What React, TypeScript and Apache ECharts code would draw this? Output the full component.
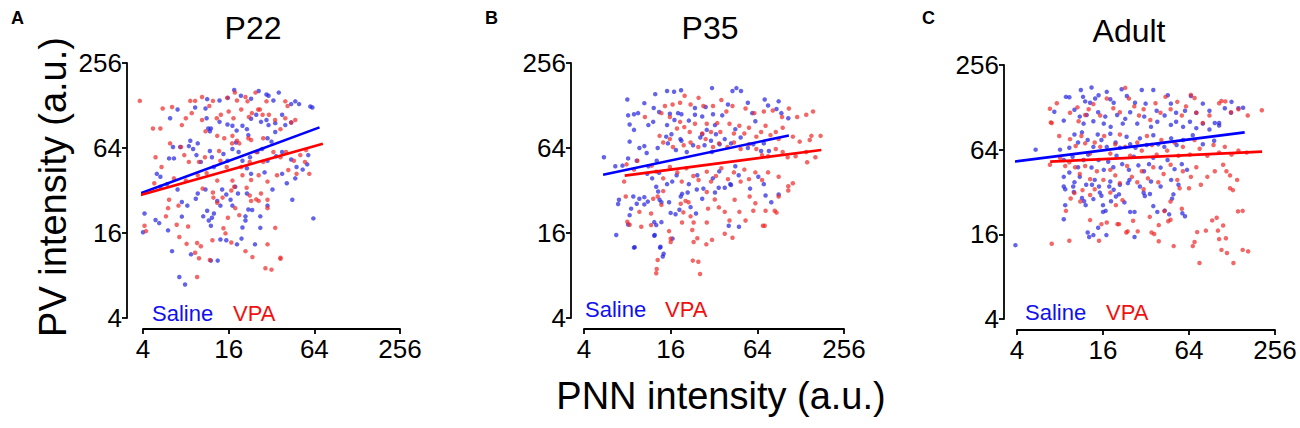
import React, { useEffect, useRef } from "react";
import * as echarts from "echarts";

const panelTitles = ["P22", "P35", "Adult"];
const panelLetters = ["A", "B", "C"];
const tickValues = [4, 16, 64, 256];
const legendLabels = ["Saline", "VPA"];
const xAxisTitle = "PNN intensity (a.u.)";
const yAxisTitle = "PV intensity (a.u.)";

const p22Saline = [[11.3,142],[13.8,139],[15.8,145],[19.5,150],[23,143],[29.5,153],[30.5,150],[33,139],[44,131],[50,131],[60,126],[62,124],[47,137],[36,158],[26,162],[17.5,165],[6.2,104],[7,120],[9.3,124],[11,122],[11.2,104],[11.5,88],[11.8,84],[12,88],[13.8,98],[15.7,94],[17,92],[18.2,85],[20,92],[21.5,87],[22,79],[23,103],[25,110],[27,98],[29.5,101],[30.5,93],[34,96],[38,110],[40,93],[44,97],[30,75],[34,83],[32,71],[6.6,54],[5,42],[5.3,40],[6.1,54],[6.5,65],[7.3,65],[8.4,66],[9,63],[9.5,57],[8.6,72],[9.7,69],[10.2,51],[11.8,61],[12.2,55],[12.6,47],[14.7,58],[15.7,52],[17,63],[18,70],[18.8,60],[20,52],[21.5,46],[22.6,55],[23,42],[25.5,60],[27.5,63],[28.6,43],[30,52],[34.5,56],[38,60],[44,53],[48,47],[53,45],[58,57],[57,49],[47,39],[41,36],[38,42],[5.3,34],[5.9,35.5],[4.1,22],[4,16.2],[4.9,19.8],[5.2,18.8],[6,16.7],[6.4,11.9],[7.2,7.8],[7.9,6.9],[7,32.5],[7.5,26.5],[7.5,20.9],[8.2,25],[9.4,28],[9.7,30.5],[11,32.5],[11.3,23],[11.6,19.6],[12,18],[12.2,20.5],[12.6,22],[10.6,21],[13.3,27],[14,25],[14.4,32.5],[15.4,30],[16.5,27.5],[17,25],[17.8,34],[18.6,30.5],[21.5,30.5],[22,23.5],[21,21],[21,19.6],[20,17.5],[23.4,23.3],[26.7,21],[26.7,17.4],[14,14.4],[15.4,14.2],[18.3,13.3],[19.7,14.6],[24.5,13.3],[30,25],[32.5,32.5],[44.8,27.5],[63,20.3],[8.7,11.3],[13.4,10.2],[12,10.2]];
const p22VPA = [[3.8,138],[8.6,138],[9.3,138],[10.4,147],[12.4,138],[11.7,127],[17.7,158],[15.6,145],[18.3,139],[21,147],[24.7,158],[21.7,137],[29.5,137],[40,137],[41.5,127],[26.5,120],[5.5,122],[6.4,125],[4.7,88],[5.3,88],[7.5,93],[8,104],[8.8,113],[10.4,101],[13.2,104],[14.1,110],[16,116],[17.3,104],[19.6,120],[22.2,106],[23.3,113],[25.8,120],[27.7,110],[30.7,110],[33.9,101],[40,104],[44,97],[47,101],[37,87],[11,84],[13.3,78],[14.9,75],[17,78],[18.3,72],[19,69],[22,75],[23,73],[28,75],[7.4,65],[6.2,69],[4.9,55],[5.4,47],[7.8,57],[8.4,51],[9.9,51],[10.9,55],[14,52],[13.7,61],[16.9,69],[15.5,47],[19.6,47],[22.5,51],[25,60],[28,51],[33,60],[37,55],[40.5,60],[46,52],[51,57],[56,62],[55,51],[42,44.7],[48,42],[59,42],[35,41],[30,37],[26,41],[23,38],[20,41],[17,37.6],[13.3,37.6],[11.2,42.5],[9.7,41],[8,37.6],[6.6,39],[4.8,36],[4.1,18],[4.2,16.5],[6,24],[5.8,21],[6.1,27.5],[6.9,18.3],[7.1,25],[7.2,15],[8.3,17.8],[8.1,13.4],[9.6,13.6],[9.3,11.6],[10.2,12.9],[9.9,10.6],[9.6,7.8],[11.8,10.3],[12.3,14.2],[12.5,28.5],[13.3,26.2],[14.5,28.5],[14.7,17.3],[15.2,15.9],[16.7,13.7],[15.8,20.5],[17.8,24],[19,21.4],[17.5,34],[21.4,33.5],[22.5,29.5],[23,27],[25,27.7],[27,30.5],[30,27.5],[30,24],[26,27],[16.7,32],[21,11.9],[23.5,10.8],[29,9],[32,8.8],[34,17.4],[37,10.7],[30,13.3],[37,10.5],[12.4,31],[10.5,33]];
const p22SalineFit = [[3.8,30.4],[69.6,89.6]];
const p22VPAFit = [[3.7,29.4],[73.5,68.6]];

const p35Saline = [[5.5,55],[6.6,47.5],[7.4,48],[8.1,54],[8.3,71],[8.9,86],[8.1,109],[8.9,111],[8.3,94],[9.5,113],[10.5,133],[12.5,154],[15.1,162],[16.9,160],[18.9,164],[12.2,123],[13.3,115],[11.2,93],[12.1,98],[15.8,112],[15.1,93],[17,101],[18,113],[19,111],[21.4,100],[23.6,123],[23.6,110],[26.5,107],[28,125],[28.5,86],[31,170],[31.5,111],[32.5,93],[36.5,109],[40,130],[43,162],[45.8,170],[49.3,162],[55,134],[59,113],[62,99],[72,141],[76,128],[87,121],[94,113],[90,137],[105,104],[8,141],[9.7,64],[10.5,66],[10.9,59],[9.3,52],[11.2,47.5],[12.8,52],[13,64],[14.9,77],[15.3,69],[16.2,80],[17.4,62],[18.7,74],[19,72],[20.7,60],[22.9,67],[25.7,76],[26.5,80],[27.5,67],[30.5,72],[31,60],[33,80],[35,68],[38,74],[42,69],[45,87],[49,76],[55,64],[60,68],[68,61],[71,69],[77,61],[11,42],[11.9,39],[13.3,42.7],[15.1,35.5],[16.4,37],[17.6,41],[21.4,35.5],[24.5,41],[31.4,39],[34.8,43.7],[41.5,35.5],[47.5,41],[57,33],[65,40],[71,35.5],[45,47.5],[6.7,15.5],[7,27.5],[6.9,25.7],[8.1,18.4],[8.3,21.4],[8.5,23.8],[8.8,29],[9.3,25.8],[9,12.7],[9.7,28],[10.5,28.7],[10.5,25.5],[11.1,26.7],[12.7,34],[13.1,31.5],[13.4,27.5],[13.8,26.4],[12.3,19.1],[12.7,18.2],[13.8,19.1],[12.3,15.3],[13.6,12.8],[14.3,11.4],[15.6,26.4],[16,22.2],[17.3,21.7],[16.5,14.6],[18.4,23.4],[18.8,29],[19.2,30.3],[21,31],[22,24.4],[24,22],[24.3,32.5],[26.5,28],[27,33],[32.5,31],[34.5,33.5],[38,33.5],[42,35],[40.5,18],[47.7,17.7],[80,26.4],[73,29.5],[8.9,12.6],[14.1,10.9],[13.5,12.6],[12.4,15.5],[90,30]];
const p35VPA = [[14.6,127],[16.5,130],[18.6,134],[22,130],[27,127],[31.5,127],[39,116],[43,127],[53,122],[61,113],[71,116],[82,118],[95,106],[106,122],[121,106],[140,110],[156,116],[152,78],[176,78],[20,150],[25,145],[36,140],[10.6,106],[13.8,113],[15.8,106],[17.7,88],[18.6,98],[19.9,90],[21.7,83],[23.6,95],[26.5,81],[28.5,95],[30.5,83],[33.7,96],[35.4,83],[41,95],[44,81],[48,92],[52,81],[56,89],[63,77],[68,83],[73,92],[79,79],[86,83],[96,89],[113,77],[126,71],[148,73],[13.4,78],[14.2,70],[15.8,74],[16.6,65],[19.7,67],[22,70],[24.9,65],[28,74],[31.5,65],[34.7,69],[39.7,65],[44,70],[49,63],[56,68],[63,63],[69,57],[76,56],[86,63],[96,60],[104,55],[118,56],[140,60],[162,55],[90,74],[11.8,48],[12.7,43.5],[14.2,39],[15.8,47],[17.8,43],[19.1,37],[20.6,46],[23,40.5],[25,38],[28.5,43.5],[30.5,37],[33,40.5],[36,46],[40,38.5],[44,43],[49,37],[52,45],[56,38.5],[62,43],[69,38],[76,43],[90,40],[113,36],[9.4,52],[7.9,49],[8.9,45],[7.8,29],[7.6,37],[142,50.7],[105,34.3],[84.5,23],[72,18],[8,19.2],[8.3,18.3],[9.7,22.6],[10,17.7],[11.7,22],[11.7,18.2],[12.1,28],[13,29],[13.8,25.3],[14.2,31.7],[15.6,16.5],[16,13.8],[16,14.6],[13,10.3],[12.8,8.9],[12.7,8.3],[18.8,25.8],[19.2,19],[19.6,22.4],[20.3,27],[21.3,26.4],[22,21],[22.6,16.8],[23.1,19],[23.1,13.8],[24.5,14.7],[22.8,10.2],[24.9,10],[25.6,8.2],[28.5,31.2],[29.1,23.8],[28.5,19],[28.3,13.3],[31,14.3],[32.4,27.6],[34.6,24.3],[38,22.6],[38,15.8],[41,19.6],[43,14.8],[44.5,27.5],[48,22.6],[53,19.6],[56.6,29],[60,23],[62,26],[70,18],[73,23],[90,29],[105,32],[87,22.3]];
const p35SalineFit = [[5.43,41.4],[106,78.5]];
const p35VPAFit = [[7.67,40.8],[178,62]];

const adultSaline = [[5.4,64],[9.3,151],[10.1,123],[11.2,170],[11.6,152],[12,141],[13.3,177],[13,138],[14.1,148],[14.9,156],[17,165],[18,146],[19,138],[21.6,172],[23.5,154],[26.8,138],[29.9,170],[31.8,136],[36,170],[38,121],[45.5,156],[47.8,136],[52,117],[60,121],[66,154],[72,117],[80,136],[89,121],[97,99],[104,99],[114,126],[126,117],[142,126],[153,127],[127,140],[11,110],[11.7,98],[12.3,113],[13.7,102],[14.8,118],[16.2,98],[16.6,110],[18.1,93],[20.1,113],[22,98],[22.9,106],[24.8,118],[27.8,98],[31.1,110],[34.7,93],[38.4,101],[43.2,112],[47.8,96],[52,101],[58.2,93],[65,101],[72,91],[80,98],[89,89],[104,95],[10.1,82],[10.7,72],[11.4,85],[12.5,75],[13.7,67],[14.7,82],[15.6,75],[17,67],[18,83],[19.6,72],[21,66],[23.4,79],[24.8,70],[27,66],[29,77],[32.4,69],[36,81],[39,70],[43,67],[48,77],[52.4,69],[58.2,75],[68,81],[80,70],[96,74],[8,64],[8.5,54],[9.3,66],[9.8,57],[10.7,48],[11.7,54],[12.6,59],[13.3,47.8],[14.9,54],[16.2,46],[17.4,52.5],[18.9,48],[19.9,58],[21.8,50.5],[24.3,46],[26.3,57],[28.3,49.5],[31,45],[33.6,50.5],[36,56],[40.5,47.7],[45.3,54],[50.7,46.5],[57,50.5],[62,46],[8.5,41],[9.3,44],[10.1,37.6],[11,41],[12.2,36],[14,39],[15,35],[18,38],[21,36],[24.5,39],[29,35],[34.7,38],[40.5,35],[48,39],[54,36],[3.9,13.4],[8.5,35],[8.7,33.5],[9.9,35],[10,32],[11.4,29],[11.8,27.5],[12.1,25.8],[8.7,25.8],[8.5,20.5],[13.4,36],[13.7,28.5],[15.6,30.1],[16,25.8],[16.7,23.5],[15.2,31.7],[17.7,35],[18.2,27.5],[19,33.2],[19.7,29.7],[22.6,27],[23.9,37],[24.8,23.1],[26.6,23.1],[30.8,31.6],[31.4,30],[34.1,31],[36,25.4],[38.4,23.1],[43.3,23.6],[46.5,22.2],[48.7,28.7],[49.8,30.8],[57.5,22.6],[12.5,16.5],[12.8,15.3],[13.7,15.8],[14.8,17.8],[16,23.1],[16.9,15.8],[26.6,15.3],[20.7,30.8],[60,21.5],[7.3,119],[8.8,152],[8.5,103]];
const adultVPA = [[7.6,137],[7,99],[7.9,80],[9.4,117],[10.6,128],[10.8,102],[12,113],[12.7,124],[13.7,135],[15.3,112],[17,148],[18.9,126],[21,118],[22.9,176],[24.3,148],[26.5,130],[28.6,112],[30.8,124],[34.3,104],[37.3,137],[40.4,117],[43.8,152],[47.6,124],[53,140],[57,112],[61,130],[66,157],[70,149],[72,117],[80,99],[89,112],[104,137],[108,142],[115,141],[126,118],[142,124],[165,112],[207,122],[6.9,100],[6.8,125],[9.4,76],[10.3,68],[11.3,80],[12,71],[13,60],[14,72],[15.3,67],[16.3,80],[18,60],[19.5,70],[21,82],[22.9,67],[24.8,58],[27.8,72],[29.9,63],[32.5,80],[35.2,69],[38,59],[41,75],[45,63],[50.6,72],[54,58],[58,67],[65,59],[70,75],[76,65],[86,58],[95,69],[104,61],[114,67],[127,59],[142,63],[162,61],[8,56],[8.7,49],[9.3,52],[10.2,48],[11,43],[12,49],[13,39.5],[14.5,45],[16.1,39],[18,46],[19.5,42],[21,37],[23.6,49],[25.5,41],[27.8,37.5],[29.9,45],[33,40],[36,48],[39,37.5],[42.5,43],[47.6,50],[53,39],[58,45],[66,41],[72,48],[86,41],[97,45],[111,50],[124,42],[139,39],[117,45],[6.8,50],[7,13.7],[9.3,14.4],[8.8,23.5],[9.5,28.8],[10.1,31.5],[11.1,27.4],[11.5,33],[13,20.2],[13,30.5],[14,33.5],[15,14.4],[15.6,18.9],[17,19.4],[18,31.7],[19.7,25.8],[20.2,18.9],[20.7,18.9],[21.9,28],[23.3,16.5],[23.8,16.8],[26,20],[28,16.8],[30.8,33.5],[34,21.3],[35,16.5],[36.5,16.1],[39.3,14.3],[39.3,18.6],[43,23.4],[45.8,19.8],[47.5,20.3],[47.5,27.4],[50,13.2],[55,34],[57,24.3],[64,34],[68,13.2],[70,14.1],[73,16.6],[77.5,36],[84,17],[93,20.1],[104,14.8],[108,12.4],[111,18.5],[124,34],[141,23.3],[152,12.4],[131,10],[75.8,10],[166,12.1],[118,11.8],[116,15],[102,17],[152,23.5],[130,33],[100,21]];
const adultSalineFit = [[3.83,52.6],[157,85]];
const adultVPAFit = [[6.83,52.6],[208,62]];

const panelData = [
  { saline: p22Saline, vpa: p22VPA, salineFit: p22SalineFit, vpaFit: p22VPAFit },
  { saline: p35Saline, vpa: p35VPA, salineFit: p35SalineFit, vpaFit: p35VPAFit },
  { saline: adultSaline, vpa: adultVPA, salineFit: adultSalineFit, vpaFit: adultVPAFit },
];

const FONT = '"Liberation Sans", Arial, Helvetica, sans-serif';
const BLUE_DOT = "rgba(35,35,225,0.88)";
const RED_DOT = "rgba(240,40,40,0.88)";
const BLUE_LINE = "#0000ff";
const RED_LINE = "#ff0000";
const LEGEND_BLUE = "#1010f0";
const LEGEND_RED = "#f01010";

const layout = [
  { left: 143, top: 63, width: 257, height: 255, yOffset: 16, titleX: 253, titleY: 28, letterX: 11, salineX: 152, vpaX: 233, legendY: 313 },
  { left: 584, top: 63, width: 260, height: 255, yOffset: 13, titleX: 710, titleY: 28, letterX: 485, salineX: 585, vpaX: 665, legendY: 309 },
  { left: 1017, top: 65, width: 258, height: 254, yOffset: 13, titleX: 1129, titleY: 31, letterX: 922, salineX: 1025, vpaX: 1106, legendY: 312 },
];

function buildOption() {
  const axisCommon = (i: number) => ({
    type: "log",
    logBase: 2,
    min: 4,
    max: 256,
    gridIndex: i,
    axisLine: { show: true, onZero: false, lineStyle: { color: "#000", width: 1.8 } },
    axisTick: { show: true, length: 5, customValues: tickValues, lineStyle: { color: "#000", width: 1.8 } },
    splitLine: { show: false },
    minorTick: { show: false },
  });
  const labelStyle = { color: "#000", fontSize: 26, fontFamily: FONT, customValues: tickValues, formatter: (v: number) => String(Math.round(v)) };

  const series: any[] = [];
  panelData.forEach((p, i) => {
    series.push({ type: "scatter", xAxisIndex: i, yAxisIndex: i, data: p.saline, symbolSize: 4.5, itemStyle: { color: BLUE_DOT }, clip: false, silent: true });
    series.push({ type: "scatter", xAxisIndex: i, yAxisIndex: i, data: p.vpa, symbolSize: 4.5, itemStyle: { color: RED_DOT }, clip: false, silent: true });
    series.push({ type: "line", xAxisIndex: i, yAxisIndex: i, data: p.salineFit, showSymbol: false, symbol: "none", lineStyle: { color: BLUE_LINE, width: 2.6 }, clip: false, silent: true, z: 5 });
    series.push({ type: "line", xAxisIndex: i, yAxisIndex: i, data: p.vpaFit, showSymbol: false, symbol: "none", lineStyle: { color: RED_LINE, width: 2.6 }, clip: false, silent: true, z: 5 });
  });

  const graphics: any[] = [];
  layout.forEach((l, i) => {
    graphics.push({ type: "text", x: l.titleX, y: l.titleY, style: { text: panelTitles[i], font: `32px ${FONT}`, fill: "#000", textAlign: "center", textVerticalAlign: "middle" } });
    graphics.push({ type: "text", x: l.letterX, y: 18, style: { text: panelLetters[i], font: `bold 18px ${FONT}`, fill: "#000", textAlign: "left", textVerticalAlign: "middle" } });
    graphics.push({ type: "text", x: l.salineX, y: l.legendY, style: { text: legendLabels[0], font: `22px ${FONT}`, fill: LEGEND_BLUE, textAlign: "left", textVerticalAlign: "middle" } });
    graphics.push({ type: "text", x: l.vpaX, y: l.legendY, style: { text: legendLabels[1], font: `22px ${FONT}`, fill: LEGEND_RED, textAlign: "left", textVerticalAlign: "middle" } });
  });
  graphics.push({ type: "text", x: 53, y: 187, rotation: Math.PI / 2, style: { text: yAxisTitle, font: `38px ${FONT}`, fill: "#000", textAlign: "center", textVerticalAlign: "middle" } });
  graphics.push({ type: "text", x: 721, y: 396, style: { text: xAxisTitle, font: `38px ${FONT}`, fill: "#000", textAlign: "center", textVerticalAlign: "middle" } });

  return {
    animation: false,
    backgroundColor: "#fff",
    grid: layout.map((l) => ({ left: l.left, top: l.top, width: l.width, height: l.height, containLabel: false })),
    xAxis: layout.map((l, i) => ({ ...axisCommon(i), position: "bottom", offset: 11, axisLabel: { ...labelStyle, margin: 7 } })),
    yAxis: layout.map((l, i) => ({ ...axisCommon(i), position: "left", offset: l.yOffset, axisLabel: { ...labelStyle, margin: 5, padding: [6, 0, 0, 0] } })),
    series,
    graphic: graphics,
  };
}

export default function App() {
  const ref = useRef<HTMLDivElement>(null);
  useEffect(() => {
    if (!ref.current) return;
    const chart = echarts.init(ref.current, null, { renderer: "svg" });
    chart.setOption(buildOption() as any);
    return () => chart.dispose();
  }, []);
  return <div ref={ref} style={{ position: "absolute", left: 0, top: 0, width: 1300, height: 428 }} />;
}
